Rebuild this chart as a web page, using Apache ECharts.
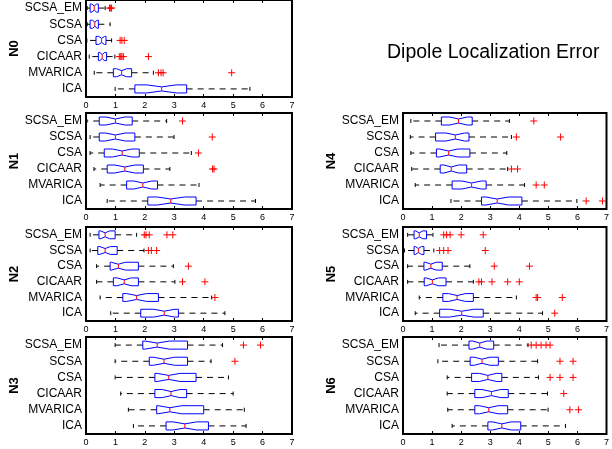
<!DOCTYPE html>
<html>
<head>
<meta charset="utf-8">
<script src="https://cdn.jsdelivr.net/npm/echarts@6/dist/echarts.min.js"></script>
<style>
  html, body { margin: 0; padding: 0; background: #fff; }
  #chart { width: 612px; height: 449px; }
</style>
</head>
<body>
<div id="chart"></div>
<script>
// methods, top to bottom
const methods = ['SCSA_EM', 'SCSA', 'CSA', 'CICAAR', 'MVARICA', 'ICA'];
const panelNames = ['N0', 'N1', 'N2', 'N3', 'N4', 'N5', 'N6'];
const titleText = 'Dipole Localization Error';

// box stats per method: [whiskerLo, q1, median, q3, whiskerHi]
const n0Box = [[0.04, 0.14, 0.28, 0.42, 0.65], [0.04, 0.14, 0.30, 0.42, 0.82], [0.03, 0.34, 0.53, 0.68, 0.87],
  [0.11, 0.42, 0.55, 0.70, 0.98], [0.28, 0.93, 1.21, 1.55, 2.29], [0.99, 1.66, 2.57, 3.42, 5.57]];
const n1Box = [[0.03, 0.45, 1.00, 1.57, 2.74], [0.14, 0.45, 1.00, 1.66, 2.99], [0.14, 0.62, 1.23, 1.81, 3.58],
  [0.27, 0.72, 1.32, 1.95, 2.85], [0.48, 1.38, 1.93, 2.43, 3.84], [0.72, 2.10, 2.88, 3.74, 5.76]];
const n2Box = [[0.14, 0.44, 0.65, 0.99, 1.72], [0.14, 0.40, 0.65, 1.06, 1.97], [0.36, 0.82, 1.10, 1.78, 2.97],
  [0.36, 0.93, 1.30, 1.78, 3.02], [0.48, 1.25, 1.72, 2.46, 4.27], [0.84, 1.86, 2.66, 3.14, 4.72]];
const n3Box = [[0.99, 1.93, 2.42, 3.45, 4.64], [0.99, 2.15, 2.65, 3.45, 4.25], [0.99, 2.34, 2.81, 3.74, 4.84],
  [1.18, 2.34, 2.89, 3.42, 5.00], [1.44, 2.40, 2.85, 4.00, 5.38], [1.61, 2.72, 3.36, 4.16, 5.44]];
const n4Box = [[0.27, 1.32, 1.91, 2.38, 3.66], [0.25, 1.12, 1.80, 2.27, 3.73], [0.27, 1.15, 1.57, 2.30, 3.57],
  [0.30, 1.28, 1.66, 2.19, 3.60], [0.42, 1.69, 2.36, 2.86, 4.18], [1.65, 2.70, 3.24, 4.09, 5.98]];
const n5Box = [[0.16, 0.38, 0.56, 0.81, 1.03], [0.05, 0.38, 0.53, 0.72, 1.06], [0.16, 0.72, 0.96, 1.35, 2.30],
  [0.16, 0.73, 1.01, 1.48, 2.42], [0.56, 1.37, 1.86, 2.42, 3.90], [0.42, 1.26, 2.02, 2.76, 4.80]];
const n6Box = [[1.24, 2.27, 2.64, 3.12, 4.30], [1.20, 2.31, 2.72, 3.28, 4.63], [1.52, 2.36, 2.92, 3.40, 4.66],
  [1.52, 2.47, 3.04, 3.62, 4.97], [1.54, 2.47, 2.95, 3.60, 4.99], [1.69, 2.92, 3.40, 4.05, 5.59]];

// notch interval per method: [low, high]
const n0Notch = [[0.20, 0.36], [0.22, 0.38], [0.43, 0.63], [0.47, 0.63], [1.04, 1.38], [2.07, 3.07]];
const n1Notch = [[0.68, 1.32], [0.66, 1.34], [0.90, 1.56], [0.98, 1.66], [1.63, 2.23], [2.42, 3.34]];
const n2Notch = [[0.50, 0.80], [0.47, 0.83], [0.86, 1.34], [1.06, 1.54], [1.38, 2.06], [2.30, 3.02]];
const n3Notch = [[2.00, 2.84], [2.29, 3.01], [2.42, 3.20], [2.59, 3.19], [2.45, 3.25], [2.96, 3.76]];
const n4Notch = [[1.61, 2.21], [1.48, 2.12], [1.25, 1.89], [1.41, 1.91], [2.03, 2.69], [2.85, 3.63]];
const n5Notch = [[0.44, 0.68], [0.43, 0.63], [0.78, 1.14], [0.80, 1.22], [1.57, 2.15], [1.60, 2.44]];
const n6Notch = [[2.40, 2.88], [2.45, 2.99], [2.63, 3.21], [2.72, 3.36], [2.63, 3.27], [3.08, 3.72]];

// outliers per method
const n0Out = [[0.80, 0.84, 0.87], [], [1.16, 1.22, 1.30], [1.13, 1.18, 1.22, 1.27, 2.12], [2.46, 2.55, 2.62, 4.95], []];
const n1Out = [[3.28], [4.29], [3.82], [4.30, 4.35], [], []];
const n2Out = [[1.98, 2.04, 2.15, 2.75, 2.95], [2.12, 2.22, 2.40], [3.48], [3.28, 4.04], [4.38], []];
const n3Out = [[5.35, 5.93], [5.06], [], [], [], []];
const n4Out = [[4.50], [3.90, 5.42], [], [3.73, 3.94], [4.58, 4.86], [6.30, 6.86]];
const n5Out = [[1.40, 1.50, 1.62, 2.00, 2.76], [1.26, 1.40, 1.55, 2.83], [3.14, 4.35], [2.61, 2.70, 3.06, 3.60, 4.00],
  [4.58, 4.63, 5.48], [5.22]];
const n6Out = [[4.41, 4.58, 4.75, 4.92, 5.06], [5.40, 5.85], [5.06, 5.40, 5.85], [5.53], [5.74, 6.04], []];

const xTicks = [0, 1, 2, 3, 4, 5, 6, 7];

const boxStats = [n0Box, n1Box, n2Box, n3Box, n4Box, n5Box, n6Box];
const notches = [n0Notch, n1Notch, n2Notch, n3Notch, n4Notch, n5Notch, n6Notch];
const outliers = [n0Out, n1Out, n2Out, n3Out, n4Out, n5Out, n6Out];

// panel placement (px)
const layout = [
  { left: 86, top: 0, width: 206, height: 97 },
  { left: 86, top: 113, width: 206, height: 96 },
  { left: 86, top: 227, width: 206, height: 94 },
  { left: 86, top: 337, width: 206, height: 97 },
  { left: 403, top: 113, width: 207, height: 96 },
  { left: 403, top: 227, width: 207, height: 94 },
  { left: 403, top: 337, width: 207, height: 97 }
];

function renderBox(params, api) {
  const c = api.value(0);
  const yc = api.coord([0, c])[1];
  const band = api.size([0, 1])[1];
  const hb = band * 0.25;
  const ind = hb * 0.5;
  const px = k => api.coord([api.value(k), c])[0];
  const lo = px(1), q1 = px(2), md = px(3), q3 = px(4), hi = px(5), nl = px(6), nh = px(7);
  const dash = { stroke: '#000', lineWidth: 1, lineDash: [6, 5] };
  const solid = { stroke: '#000', lineWidth: 1 };
  return {
    type: 'group',
    children: [
      { type: 'line', shape: { x1: q3, y1: yc, x2: hi, y2: yc }, style: dash },
      { type: 'line', shape: { x1: q1, y1: yc, x2: lo, y2: yc }, style: dash },
      { type: 'line', shape: { x1: hi, y1: yc - ind, x2: hi, y2: yc + ind }, style: solid },
      { type: 'line', shape: { x1: lo, y1: yc - ind, x2: lo, y2: yc + ind }, style: solid },
      {
        type: 'polygon',
        shape: {
          points: [[q1, yc - hb], [nl, yc - hb], [md, yc - hb + ind], [nh, yc - hb], [q3, yc - hb],
            [q3, yc + hb], [nh, yc + hb], [md, yc + hb - ind], [nl, yc + hb], [q1, yc + hb]]
        },
        style: { fill: 'none', stroke: '#0000ff', lineWidth: 1 }
      },
      { type: 'line', shape: { x1: md, y1: yc - hb + ind, x2: md, y2: yc + hb - ind },
        style: { stroke: '#ff0000', lineWidth: 1 } }
    ]
  };
}

function renderPlus(params, api) {
  const p = api.coord([api.value(1), api.value(0)]);
  const r = 3.5;
  const st = { stroke: '#ff0000', lineWidth: 1 };
  return {
    type: 'group',
    children: [
      { type: 'line', shape: { x1: p[0] - r, y1: p[1], x2: p[0] + r, y2: p[1] }, style: st },
      { type: 'line', shape: { x1: p[0], y1: p[1] - r, x2: p[0], y2: p[1] + r }, style: st }
    ]
  };
}

const grids = [], xAxes = [], yAxes = [], series = [];

panelNames.forEach((name, i) => {
  grids.push(Object.assign({ show: true, borderColor: '#000', borderWidth: 2, backgroundColor: '#fff' }, layout[i]));
  // bottom axis with labels
  xAxes.push({
    gridIndex: i, type: 'value', min: xTicks[0], max: xTicks[xTicks.length - 1], interval: 1,
    position: 'bottom',
    axisLine: { show: false },
    axisTick: { show: true, inside: true, length: 3, lineStyle: { color: '#000' } },
    axisLabel: { fontSize: 9, color: '#000', margin: 4 },
    splitLine: { show: false }
  });
  // top axis, ticks only
  xAxes.push({
    gridIndex: i, type: 'value', min: xTicks[0], max: xTicks[xTicks.length - 1], interval: 1,
    position: 'top',
    axisLine: { show: false },
    axisTick: { show: true, inside: true, length: 3, lineStyle: { color: '#000' } },
    axisLabel: { show: false },
    splitLine: { show: false }
  });
  yAxes.push({
    gridIndex: i, type: 'category', data: methods, inverse: true,
    axisLine: { show: false }, axisTick: { show: false },
    axisLabel: { fontSize: 12, color: '#000', margin: 4 },
    name: name, nameLocation: 'middle', nameGap: 65, nameRotate: 90,
    nameTextStyle: { fontSize: 13, fontWeight: 'bold', color: '#000' }
  });

  const boxData = boxStats[i].map((b, k) => [k].concat(b, notches[i][k]));
  series.push({
    type: 'custom', xAxisIndex: i * 2, yAxisIndex: i,
    renderItem: renderBox,
    encode: { x: [1, 2, 3, 4, 5, 6, 7], y: 0 },
    data: boxData, silent: true
  });

  const outData = [];
  outliers[i].forEach((vals, k) => vals.forEach(v => outData.push([k, v])));
  series.push({
    type: 'custom', xAxisIndex: i * 2, yAxisIndex: i,
    renderItem: renderPlus,
    encode: { x: 1, y: 0 },
    data: outData, silent: true
  });
});

const chart = echarts.init(document.getElementById('chart'), null, { renderer: 'canvas' });
chart.setOption({
  animation: false,
  backgroundColor: '#fff',
  textStyle: { fontFamily: 'Liberation Sans, Arial, Helvetica, sans-serif' },
  title: {
    text: titleText, left: 387, top: 43, padding: 0,
    textStyle: { fontSize: 19.5, fontWeight: 'normal', color: '#000' }
  },
  grid: grids,
  xAxis: xAxes,
  yAxis: yAxes,
  series: series
});
</script>
</body>
</html>
